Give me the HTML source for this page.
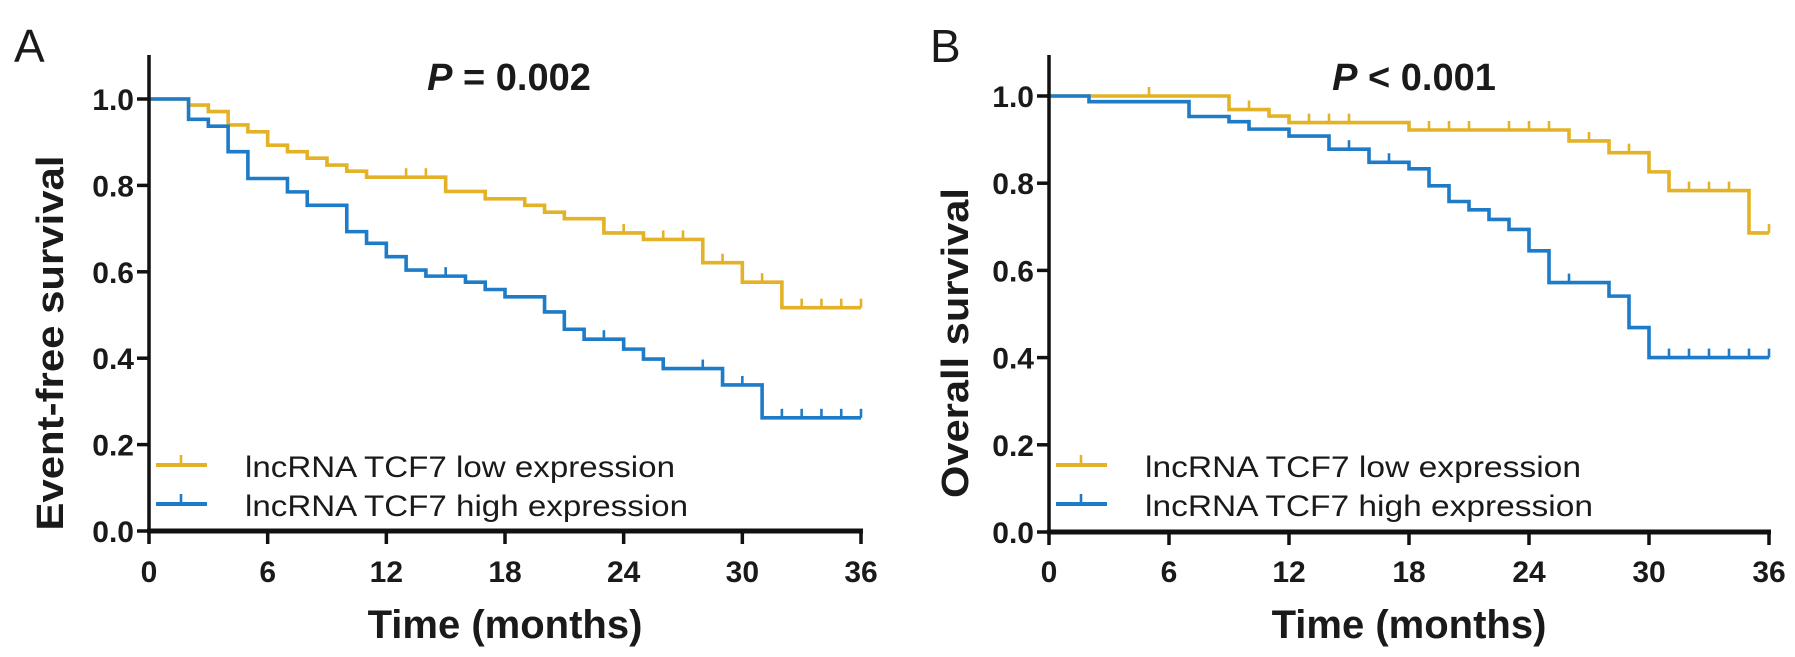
<!DOCTYPE html>
<html><head><meta charset="utf-8">
<style>
html,body{margin:0;padding:0;background:#fff;}
svg{display:block;}
text{font-family:"Liberation Sans",Arial,sans-serif;fill:#1a1a1a;}
</style></head>
<body>
<svg id="fig" width="1795" height="657" viewBox="0 0 1795 657"></svg>
<script>
// ---- data ----
const xTicks = [0, 6, 12, 18, 24, 30, 36];
const yTicks = [0.0, 0.2, 0.4, 0.6, 0.8, 1.0];
const yTickLabels = ["0.0", "0.2", "0.4", "0.6", "0.8", "1.0"];

const aLowTimes  = [2,3,4,5,6,7,8,9,10,11,15,17,19,20,21,23,25,28,30,32];
const aLowValues = [0.986,0.971,0.94,0.924,0.893,0.878,0.863,0.847,0.833,0.819,0.786,0.769,0.754,0.738,0.723,0.69,0.675,0.621,0.576,0.517];
const aLowCensor = [13,14,24,26,27,29,31,33,34,35,36];

const aHighTimes  = [2,3,4,5,7,8,10,11,12,13,14,16,17,18,20,21,22,24,25,26,29,31];
const aHighValues = [0.953,0.937,0.878,0.816,0.785,0.754,0.693,0.666,0.635,0.604,0.59,0.576,0.559,0.542,0.507,0.467,0.444,0.421,0.398,0.376,0.338,0.262];
const aHighCensor = [15,23,28,30,32,33,34,35,36];

const bLowTimes  = [9,11,12,18,26,28,30,31,35];
const bLowValues = [0.969,0.954,0.939,0.922,0.897,0.870,0.826,0.783,0.686];
const bLowCensor = [5,10,13,14,15,19,20,21,23,24,25,27,29,32,33,34,36];

const bHighTimes  = [2,7,9,10,12,14,16,18,19,20,21,22,23,24,25,28,29,30];
const bHighValues = [0.987,0.953,0.941,0.924,0.908,0.878,0.848,0.833,0.794,0.758,0.739,0.717,0.694,0.645,0.572,0.541,0.469,0.40];
const bHighCensor = [15,17,26,31,32,33,34,35,36];

const YELLOW = "#E3B226", BLUE = "#1E7BC8";
const NS = "http://www.w3.org/2000/svg";
const svg = document.getElementById("fig");

function mk(tag, attrs, parent) {
  const e = document.createElementNS(NS, tag);
  for (const k in attrs) e.setAttribute(k, attrs[k]);
  (parent || svg).appendChild(e);
  return e;
}

function panel(cfg) {
  const g = mk("g", {});
  
  
  const xS = m => cfg.x0 + (cfg.x1 - cfg.x0) * m / 36;
  const yS = v => cfg.y0 - (cfg.y0 - cfg.y1) * v;

  const L = mk("text", {x: cfg.letterX, y: 62, "font-size": 46}, g);
  L.textContent = cfg.letter;
  
  

  const t = mk("text", {x: cfg.titleX, y: 90, "font-size": 38, "font-weight": "bold", "text-anchor": "middle"}, g);
  
  
  const ti = mk("tspan", {"font-style": "italic"}, t); ti.textContent = "P";
  const tr = mk("tspan", {}, t); tr.textContent = cfg.title;

  function series(times, vals, censor, color, name) {
    let d = "M" + xS(0) + "," + yS(1);
    for (let i = 0; i < times.length; i++) {
      d += " H" + xS(times[i]) + " V" + yS(vals[i]);
    }
    d += " H" + xS(36);
    const p = mk("path", {d: d, fill: "none", stroke: color, "stroke-width": 3.6, "stroke-linejoin": "miter"}, g);
    
    
    censor.forEach(c => {
      let v = 1;
      for (let i = 0; i < times.length; i++) if (times[i] <= c) v = vals[i];
      const l = mk("line", {x1: xS(c), x2: xS(c), y1: yS(v), y2: yS(v) - 9, stroke: color, "stroke-width": 2.6}, g);
      
      
    });
  }
  series(cfg.lowT, cfg.lowV, cfg.lowC, YELLOW, "low-expression");
  series(cfg.highT, cfg.highV, cfg.highC, BLUE, "high-expression");

  const ya = mk("line", {x1: cfg.x0, x2: cfg.x0, y1: 55, y2: cfg.y0 + 2, stroke: "#111", "stroke-width": 3.5}, g);
  
  
  const xa = mk("line", {x1: cfg.x0 - 2, x2: cfg.x1 + 2, y1: cfg.y0, y2: cfg.y0, stroke: "#111", "stroke-width": 5}, g);
  
  

  yTicks.forEach((v, i) => {
    const tk = mk("line", {x1: cfg.x0 - 12, x2: cfg.x0, y1: yS(v), y2: yS(v), stroke: "#111", "stroke-width": 3.5}, g);
    
    
    const lb = mk("text", {x: cfg.x0 - 15, y: yS(v) + 11, "font-size": 30, "font-weight": "bold", "text-anchor": "end"}, g);
    lb.textContent = yTickLabels[i];
    
    
  });
  xTicks.forEach(m => {
    const tk = mk("line", {x1: xS(m), x2: xS(m), y1: cfg.y0, y2: cfg.y0 + 13, stroke: "#111", "stroke-width": 3.5}, g);
    
    
    const lb = mk("text", {x: xS(m), y: 582, "font-size": 30, "font-weight": "bold", "text-anchor": "middle"}, g);
    lb.textContent = String(m);
    
    
  });

  const xt = mk("text", {x: (cfg.x0 + cfg.x1) / 2, y: 638, "font-size": 40, "font-weight": "bold", "text-anchor": "middle"}, g);
  xt.textContent = "Time (months)";
  
  

  const yt = mk("text", {x: 0, y: 0, "font-size": 38, "font-weight": "bold", "text-anchor": "middle",
    textLength: cfg.ytLen, lengthAdjust: "spacingAndGlyphs",
    transform: "translate(" + cfg.ytX + "," + cfg.ytY + ") rotate(-90)"}, g);
  yt.textContent = cfg.ytitle;
  
  

  [[YELLOW, "lncRNA TCF7 low expression", 465, cfg.lowLen], [BLUE, "lncRNA TCF7 high expression", 504, cfg.highLen]].forEach(([c, label, y, len]) => {
    const lg = mk("g", {}, g);
    
    
    mk("line", {x1: cfg.x0 + 7, x2: cfg.x0 + 58, y1: y, y2: y, stroke: c, "stroke-width": 4}, lg);
    mk("line", {x1: cfg.x0 + 32, x2: cfg.x0 + 32, y1: y, y2: y - 10, stroke: c, "stroke-width": 2.6}, lg);
    const tx = mk("text", {x: cfg.x0 + 96, y: y + 12, "font-size": 30, textLength: len, lengthAdjust: "spacingAndGlyphs"}, lg);
    tx.textContent = label;
  });
}

panel({id: "a", letter: "A", letterX: 14, titleX: 509, title: " = 0.002",
  x0: 149, x1: 861, y0: 531, y1: 99, ytX: 63, ytY: 343, ytLen: 375, ytitle: "Event-free survival",
  lowT: aLowTimes, lowV: aLowValues, lowC: aLowCensor,
  highT: aHighTimes, highV: aHighValues, highC: aHighCensor, lowLen: 430, highLen: 443});

panel({id: "b", letter: "B", letterX: 930, titleX: 1414, title: " < 0.001",
  x0: 1049, x1: 1769, y0: 532, y1: 96, ytX: 968, ytY: 343, ytLen: 310, ytitle: "Overall survival",
  lowT: bLowTimes, lowV: bLowValues, lowC: bLowCensor,
  highT: bHighTimes, highV: bHighValues, highC: bHighCensor, lowLen: 436, highLen: 448});
</script>
</body></html>
